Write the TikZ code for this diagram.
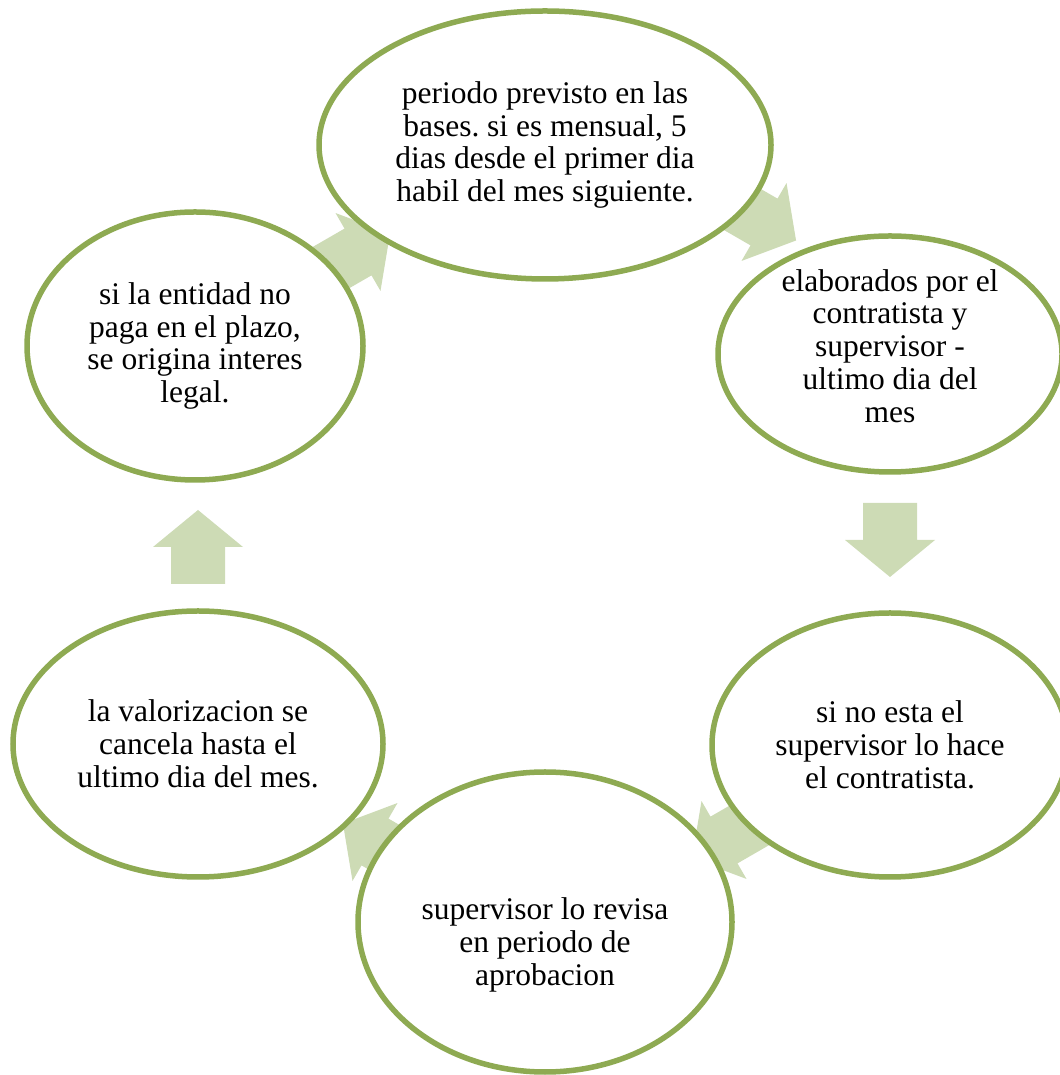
\documentclass[tikz,border=0pt]{standalone}
\usepackage{fontspec}
\setmainfont{Liberation Serif}
\usetikzlibrary{shapes.geometric}
\frenchspacing

\definecolor{ringgreen}{RGB}{142,170,82}
\definecolor{arrowgreen}{RGB}{205,219,181}

\tikzset{
  txt/.style={align=center, font=\fontsize{31.5}{32.8}\selectfont},
  cyc/.style={ellipse, draw=ringgreen, line width=5.5pt, fill=white, inner sep=0pt, txt},
}

\begin{document}
\begin{tikzpicture}[x=1pt,y=1pt]
    \useasboundingbox (0,0) rectangle (1059,1075);

    % block arrows first, the ellipses cover their ends
    \foreach \x/\y/\r in {764/853/-30, 890/535/-90, 724/235/-150, 375/233/150, 198/528/90, 358/823/30} {
        \begin{scope}[shift={(\x,\y)},rotate=\r]
        \fill[arrowgreen]
        (-37,-27) -- (0,-27)   % shaft
        -- (0,-45) -- (37,0)   % head
        -- (0,45) -- (0,27)
        -- (-37,27) -- cycle;
        \end{scope}
    }

    % stages of the cycle
    \node[cyc, minimum width=452pt, minimum height=268pt] (t) at (545,930)
        {periodo previsto en las\\bases. si es mensual, 5\\dias desde el primer dia\\habil del mes siguiente.};
    \node[cyc, minimum width=344pt, minimum height=236pt,
          label={[txt,yshift=8pt]center:{elaborados por el\\contratista y\\supervisor -\\ultimo dia del\\mes}}] (r) at (890,721) {};
    \node[cyc, minimum width=356pt, minimum height=264pt] (br) at (890,330)
        {si no esta el\\supervisor lo hace\\el contratista.};
    \node[cyc, minimum width=374pt, minimum height=300pt,
          label={[txt,yshift=-23pt]center:{supervisor lo revisa\\en periodo de\\aprobacion}}] (b) at (545,153) {};
    \node[cyc, minimum width=370pt, minimum height=266pt] (bl) at (198,331)
        {la valorizacion se\\cancela hasta el\\ultimo dia del mes.};
    \node[cyc, minimum width=336pt, minimum height=268pt] (tl) at (195,729)
        {si la entidad no\\paga en el plazo,\\se origina interes\\legal.};
\end{tikzpicture}
\end{document}
